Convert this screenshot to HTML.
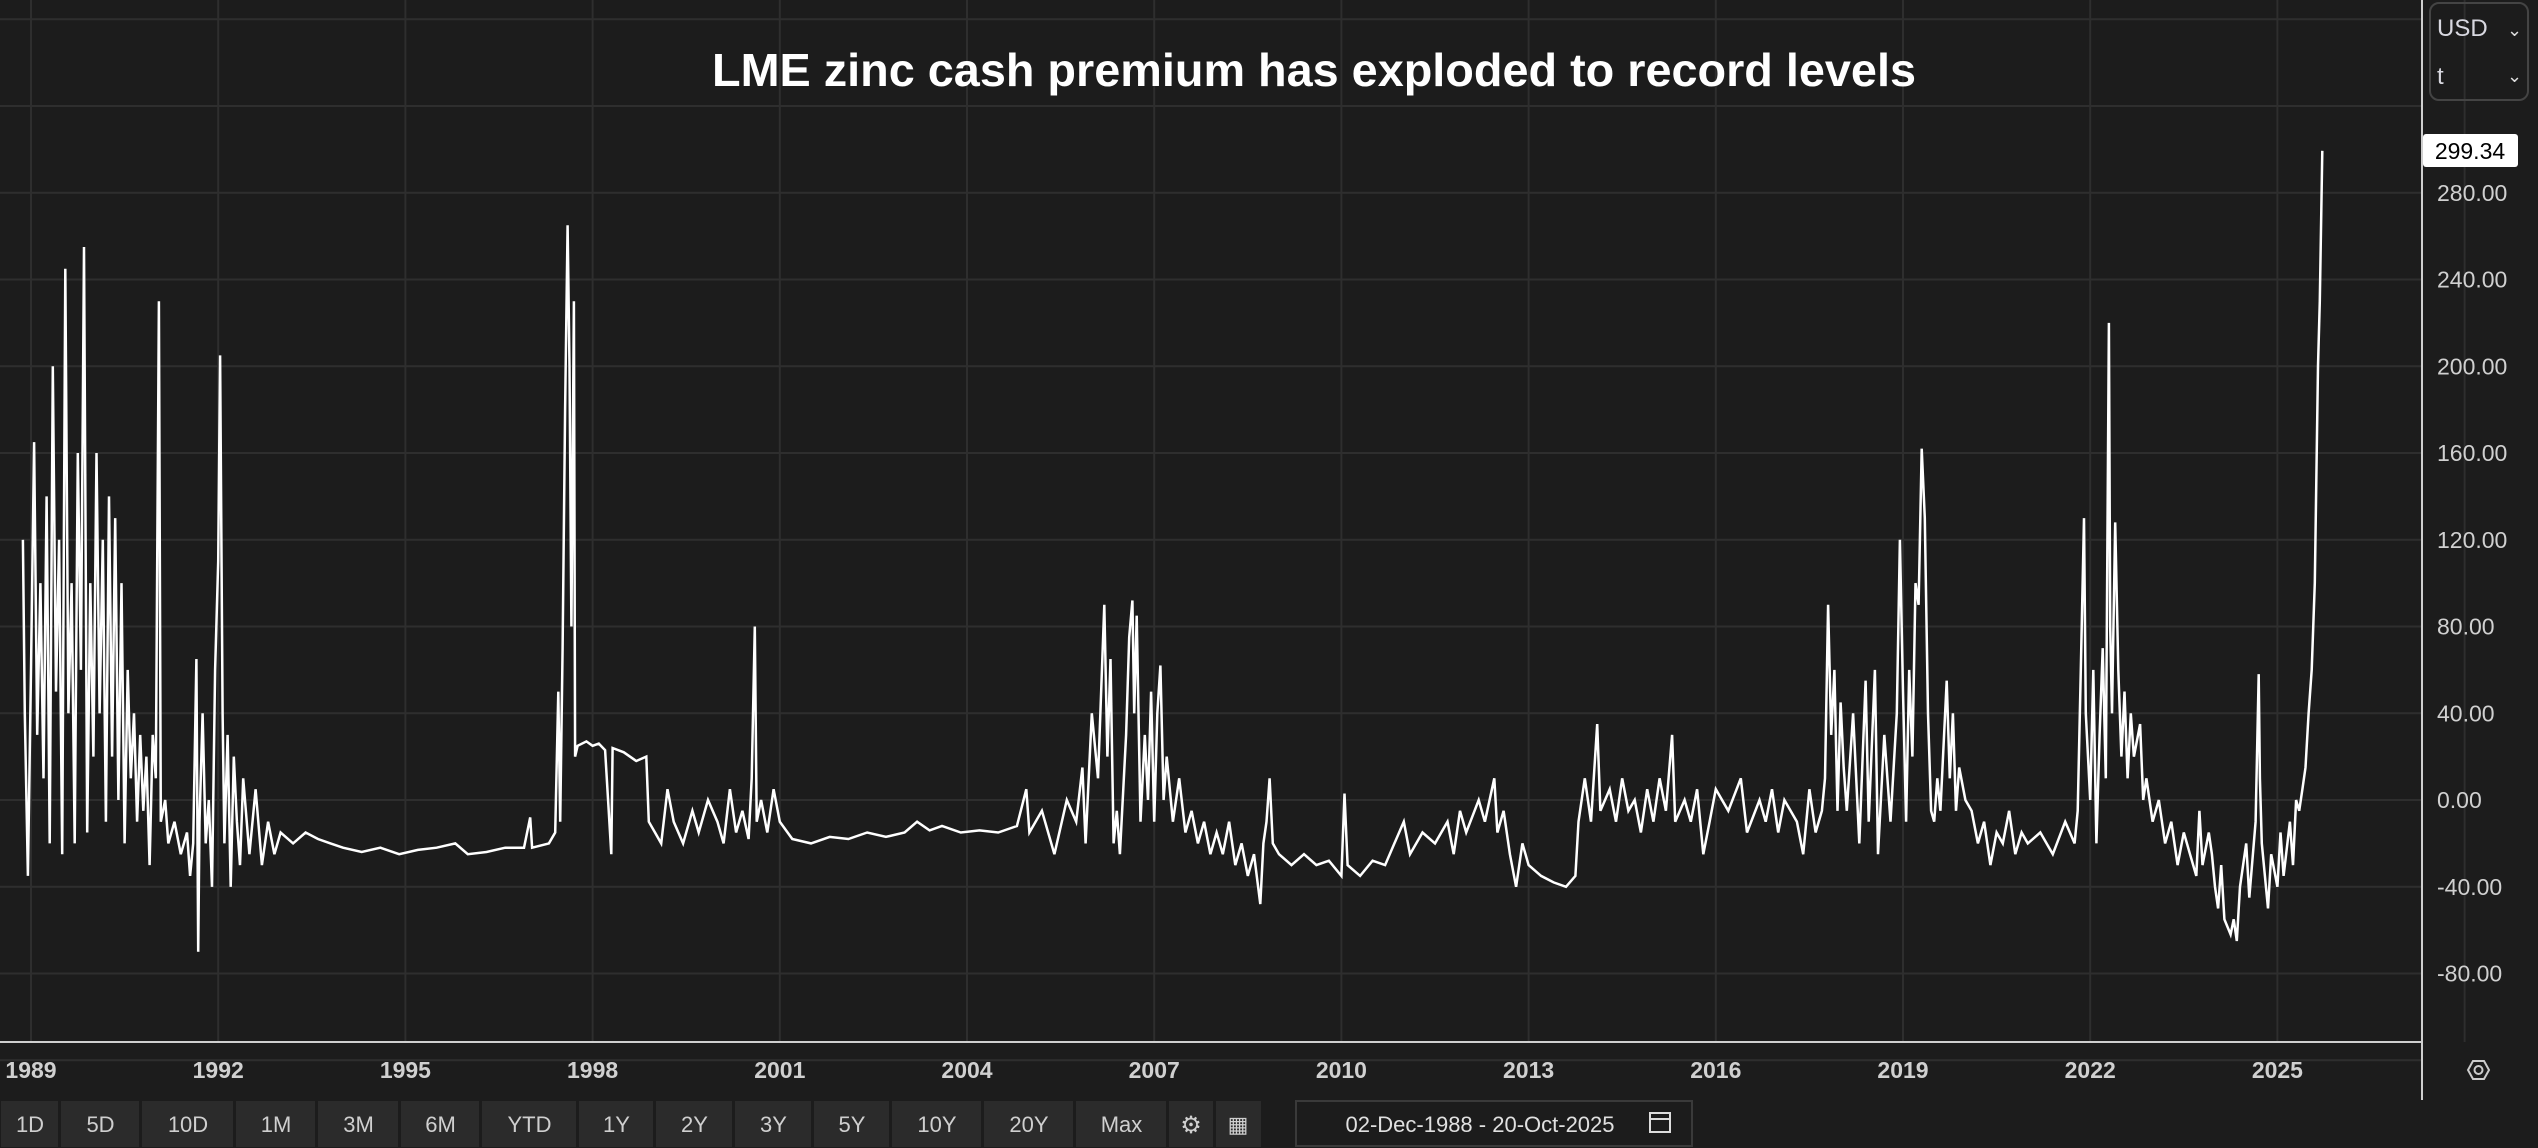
<!DOCTYPE html>
<html><head><meta charset="utf-8"><style>
body{margin:0;background:#1c1c1c;width:2538px;height:1148px;overflow:hidden;font-family:"Liberation Sans",sans-serif}
svg{position:absolute;left:0;top:0}
</style></head><body>
<svg id="chart" width="2538" height="1148">
<rect x="0" y="0" width="2538" height="1148" fill="#1c1c1c"/>
<g id="grid"></g>
<text x="1314" y="86" fill="#ffffff" font-size="46" font-weight="bold" text-anchor="middle" textLength="1204" lengthAdjust="spacingAndGlyphs">LME zinc cash premium has exploded to record levels</text>
<g id="series"></g>
<line x1="2422" y1="0" x2="2422" y2="1100" stroke="#cfcfcf" stroke-width="2"/>
<line x1="0" y1="1042" x2="2422" y2="1042" stroke="#cfcfcf" stroke-width="2"/>
<g id="yticks"></g>
<g id="xticks"></g>
<rect x="2430" y="3" width="98" height="97" rx="9" fill="none" stroke="#444" stroke-width="2"/>
<text x="2437" y="36" fill="#d8d8e0" font-size="24">USD</text>
<text x="2507" y="36" fill="#ddd" font-size="18">⌄</text>
<text x="2437" y="84" fill="#d8d8e0" font-size="24">t</text>
<text x="2507" y="82" fill="#ddd" font-size="18">⌄</text>
<rect x="2423" y="134" width="95" height="33" rx="3" fill="#ffffff"/>
<text x="2470" y="159" fill="#000" font-size="23" text-anchor="middle">299.34</text>
<g><polygon points="2468,1070 2473,1061 2484,1061 2489,1070 2484,1079 2473,1079" fill="none" stroke="#ccc" stroke-width="2"/><circle cx="2478.5" cy="1070" r="4" fill="none" stroke="#ccc" stroke-width="2"/></g>
<g id="toolbar"></g>
<rect x="1296" y="1101" width="396" height="45" fill="#1c1c1c" stroke="#3a3a3a" stroke-width="2"/>
<text x="1480" y="1132" fill="#e0e0e0" font-size="22" text-anchor="middle">02-Dec-1988  -  20-Oct-2025</text>
<g><rect x="1650" y="1113" width="20" height="19" fill="none" stroke="#ddd" stroke-width="2"/><line x1="1650" y1="1119" x2="1670" y2="1119" stroke="#ddd" stroke-width="2"/></g>
</svg>
<script>
const yTickValues=[280,240,200,160,120,80,40,0,-40,-80];
const yTickLabels=["280.00","240.00","200.00","160.00","120.00","80.00","40.00","0.00","-40.00","-80.00"];
const xTickYears=[1989,1992,1995,1998,2001,2004,2007,2010,2013,2016,2019,2022,2025];
const xTickLabels=["1989","1992","1995","1998","2001","2004","2007","2010","2013","2016","2019","2022","2025"];
const rangeButtons=["1D","5D","10D","1M","3M","6M","YTD","1Y","2Y","3Y","5Y","10Y","20Y","Max"];
const dates=[1988.87,1988.9,1988.95,1989.0,1989.05,1989.1,1989.15,1989.2,1989.25,1989.3,1989.35,1989.4,1989.45,1989.5,1989.55,1989.6,1989.65,1989.7,1989.75,1989.8,1989.85,1989.9,1989.95,1990.0,1990.05,1990.1,1990.15,1990.2,1990.25,1990.3,1990.35,1990.4,1990.45,1990.5,1990.55,1990.6,1990.65,1990.7,1990.75,1990.8,1990.85,1990.9,1990.95,1991.0,1991.05,1991.08,1991.15,1991.2,1991.3,1991.4,1991.5,1991.55,1991.6,1991.65,1991.68,1991.7,1991.75,1991.8,1991.85,1991.9,1991.95,1992.0,1992.03,1992.07,1992.1,1992.15,1992.2,1992.25,1992.3,1992.35,1992.4,1992.5,1992.6,1992.7,1992.8,1992.9,1993.0,1993.2,1993.4,1993.6,1993.8,1994.0,1994.3,1994.6,1994.9,1995.2,1995.5,1995.8,1996.0,1996.3,1996.6,1996.9,1997.0,1997.03,1997.3,1997.4,1997.45,1997.48,1997.52,1997.56,1997.6,1997.63,1997.66,1997.7,1997.72,1997.76,1997.9,1998.0,1998.1,1998.2,1998.3,1998.32,1998.5,1998.7,1998.86,1998.9,1999.0,1999.1,1999.2,1999.3,1999.45,1999.6,1999.7,1999.85,2000.0,2000.1,2000.2,2000.3,2000.4,2000.5,2000.55,2000.6,2000.63,2000.7,2000.8,2000.9,2001.0,2001.2,2001.5,2001.8,2002.1,2002.4,2002.7,2003.0,2003.2,2003.4,2003.6,2003.9,2004.2,2004.5,2004.8,2004.95,2005.0,2005.2,2005.4,2005.6,2005.75,2005.85,2005.9,2006.0,2006.1,2006.2,2006.25,2006.3,2006.35,2006.4,2006.45,2006.55,2006.6,2006.65,2006.68,2006.72,2006.78,2006.85,2006.9,2006.95,2007.0,2007.05,2007.1,2007.15,2007.2,2007.3,2007.4,2007.5,2007.6,2007.7,2007.8,2007.9,2008.0,2008.1,2008.2,2008.3,2008.4,2008.5,2008.6,2008.7,2008.75,2008.8,2008.85,2008.9,2009.0,2009.2,2009.4,2009.6,2009.8,2010.0,2010.05,2010.1,2010.3,2010.5,2010.7,2010.85,2011.0,2011.1,2011.3,2011.5,2011.7,2011.8,2011.9,2012.0,2012.2,2012.3,2012.45,2012.5,2012.6,2012.7,2012.8,2012.9,2013.0,2013.2,2013.4,2013.6,2013.75,2013.8,2013.9,2014.0,2014.1,2014.15,2014.3,2014.4,2014.5,2014.6,2014.7,2014.8,2014.9,2015.0,2015.1,2015.2,2015.3,2015.35,2015.5,2015.6,2015.7,2015.8,2015.9,2016.0,2016.2,2016.4,2016.5,2016.7,2016.8,2016.9,2017.0,2017.1,2017.3,2017.4,2017.5,2017.6,2017.7,2017.75,2017.8,2017.85,2017.9,2017.95,2018.0,2018.05,2018.1,2018.2,2018.3,2018.4,2018.45,2018.55,2018.6,2018.7,2018.8,2018.9,2018.95,2019.0,2019.05,2019.1,2019.15,2019.2,2019.25,2019.3,2019.35,2019.4,2019.45,2019.5,2019.55,2019.6,2019.7,2019.75,2019.8,2019.85,2019.9,2020.0,2020.1,2020.2,2020.3,2020.4,2020.5,2020.6,2020.7,2020.8,2020.9,2021.0,2021.2,2021.4,2021.6,2021.75,2021.8,2021.85,2021.9,2021.93,2022.0,2022.05,2022.1,2022.15,2022.2,2022.25,2022.3,2022.32,2022.35,2022.4,2022.45,2022.5,2022.55,2022.6,2022.65,2022.7,2022.8,2022.85,2022.9,2023.0,2023.1,2023.2,2023.3,2023.4,2023.5,2023.6,2023.7,2023.75,2023.8,2023.9,2023.95,2024.0,2024.05,2024.1,2024.15,2024.25,2024.3,2024.35,2024.4,2024.5,2024.55,2024.65,2024.7,2024.72,2024.75,2024.8,2024.85,2024.9,2025.0,2025.05,2025.1,2025.2,2025.25,2025.3,2025.35,2025.4,2025.45,2025.5,2025.55,2025.6,2025.65,2025.68,2025.72];
const values=[120,40,-35,60,165,30,100,10,140,-20,200,50,120,-25,245,40,100,-20,160,60,255,-15,100,20,160,40,120,-10,140,20,130,0,100,-20,60,10,40,-10,30,-5,20,-30,30,10,230,-10,0,-20,-10,-25,-15,-35,-20,65,-70,-10,40,-20,0,-40,60,110,205,40,-20,30,-40,20,-10,-30,10,-25,5,-30,-10,-25,-15,-20,-15,-18,-20,-22,-24,-22,-25,-23,-22,-20,-25,-24,-22,-22,-8,-22,-20,-15,50,-10,70,180,265,200,80,230,20,25,27,25,26,23,-25,24,22,18,20,-10,-15,-20,5,-10,-20,-5,-15,0,-10,-20,5,-15,-5,-18,10,80,-10,0,-15,5,-10,-18,-20,-17,-18,-15,-17,-15,-10,-14,-12,-15,-14,-15,-12,5,-15,-5,-25,0,-10,15,-20,40,10,90,20,65,-20,-5,-25,30,75,92,40,85,-10,30,0,50,-10,40,62,0,20,-10,10,-15,-5,-20,-10,-25,-15,-25,-10,-30,-20,-35,-25,-48,-20,-10,10,-20,-25,-30,-25,-30,-28,-35,3,-30,-35,-28,-30,-20,-10,-25,-15,-20,-10,-25,-5,-15,0,-10,10,-15,-5,-25,-40,-20,-30,-35,-38,-40,-35,-10,10,-10,35,-5,5,-10,10,-5,0,-15,5,-10,10,-5,30,-10,0,-10,5,-25,-10,5,-5,10,-15,0,-10,5,-15,0,-10,-25,5,-15,-5,10,90,30,60,-5,45,15,-5,40,-20,55,-10,60,-25,30,-10,40,120,50,-10,60,20,100,90,162,130,40,-5,-10,10,-5,55,10,40,-5,15,0,-5,-20,-10,-30,-15,-20,-5,-25,-15,-20,-15,-25,-10,-20,-5,60,130,40,0,60,-20,30,70,10,220,80,40,128,60,20,50,10,40,20,35,0,10,-10,0,-20,-10,-30,-15,-25,-35,-5,-30,-15,-25,-40,-50,-30,-55,-62,-55,-65,-40,-20,-45,-10,58,10,-20,-35,-50,-25,-40,-15,-35,-10,-30,0,-5,5,15,40,60,100,200,230,299.34];

const NS="http://www.w3.org/2000/svg";
function xScale(t){return 31+(t-1989)*62.4;}
function yScale(v){return 800-v*86.75/40;}
function mk(tag,attrs,parent){const e=document.createElementNS(NS,tag);for(const k in attrs)e.setAttribute(k,attrs[k]);parent.appendChild(e);return e;}

const grid=document.getElementById('grid');
for(let v=-120;v<=360;v+=40){
  const l=mk('line',{x1:0,x2:2422,y1:yScale(v),y2:yScale(v),stroke:'#2e2e2e','stroke-width':2},grid);
  
  
}
for(let y=1986;y<=2028;y+=3){
  const l=mk('line',{x1:xScale(y),x2:xScale(y),y1:0,y2:1042,stroke:'#2e2e2e','stroke-width':2},grid);
  
  
}
const yt=document.getElementById('yticks');
yTickValues.forEach((v,i)=>{
  const t=mk('text',{x:2437,y:yScale(v)+8,fill:'#d0d0d0','font-size':23},yt);
  t.textContent=yTickLabels[i];
  
  
});
const xt=document.getElementById('xticks');
xTickYears.forEach((y,i)=>{
  const t=mk('text',{x:xScale(y),y:1078,fill:'#d0d0d0','font-size':23,'font-weight':'bold','text-anchor':'middle'},xt);
  t.textContent=xTickLabels[i];
  
  
});
const pts=dates.map((d,i)=>xScale(d).toFixed(1)+','+yScale(values[i]).toFixed(1)).join(' ');
const pl=mk('polyline',{points:pts,fill:'none',stroke:'#ffffff','stroke-width':2.5,'stroke-linejoin':'miter'},document.getElementById('series'));



const tb=document.getElementById('toolbar');
const edges=[0,60,141,235,317,400,481,578,655,734,813,891,983,1075,1168];
rangeButtons.forEach((b,i)=>{
  const r=mk('rect',{x:edges[i]+1,y:1101,width:edges[i+1]-edges[i]-3,height:46,fill:'#2b2b2b'},tb);
  
  
  const t=mk('text',{x:(edges[i]+edges[i+1])/2,y:1132,fill:'#cfcfcf','font-size':22,'text-anchor':'middle'},tb);
  t.textContent=b;
  
  
});
const g1=mk('rect',{x:1169,y:1101,width:44,height:46,fill:'#2b2b2b'},tb);


const g1t=mk('text',{x:1191,y:1133,fill:'#cfcfcf','font-size':24,'text-anchor':'middle'},tb);
g1t.textContent='⚙';


const g2=mk('rect',{x:1216,y:1101,width:45,height:46,fill:'#2b2b2b'},tb);


const g2t=mk('text',{x:1238,y:1132,fill:'#cfcfcf','font-size':22,'text-anchor':'middle'},tb);
g2t.textContent='▦';


</script>
</body></html>
